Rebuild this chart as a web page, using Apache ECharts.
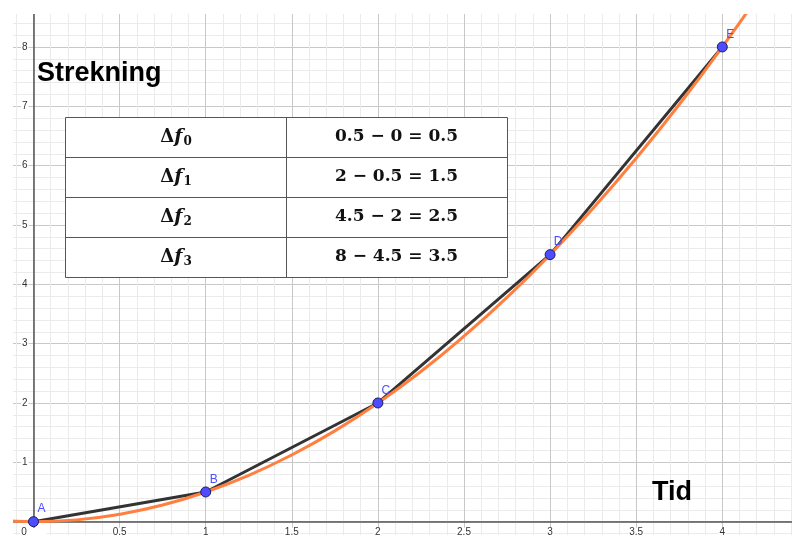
<!DOCTYPE html>
<html><head><meta charset="utf-8">
<script src="https://cdn.jsdelivr.net/npm/echarts@6/dist/echarts.min.js"></script>
<style>html,body{margin:0;padding:0;background:#fff}#c{width:792px;height:535px}</style>
</head><body><div id="c"></div>
<script>
// Points A–E
const ptNames = ['A', 'B', 'C', 'D', 'E'];
const ptX = [0, 1, 2, 3, 4];
const ptY = [0, 0.5, 2, 4.5, 8];
// orange curve samples
const curveX = [-0.25, 0, 0.25, 0.5, 0.75, 1, 1.25, 1.5, 1.75, 2, 2.25, 2.5, 2.75, 3, 3.25, 3.5, 3.75, 4, 4.25];
const curveY = [0.03, 0, 0.03, 0.125, 0.28, 0.5, 0.78, 1.125, 1.53, 2, 2.53, 3.125, 3.78, 4.5, 5.28, 6.125, 7.03, 8, 9.03];
// table
const deltaSubs = ['0', '1', '2', '3'];
const deltaExprs = ['0.5 − 0 = 0.5', '2 − 0.5 = 1.5', '4.5 − 2 = 2.5', '8 − 4.5 = 3.5'];
const yLabel = 'Strekning';
const xLabel = 'Tid';

const chart = echarts.init(document.getElementById('c'), null, {renderer: 'canvas'});

const serif = 'DejaVu Serif';
const ZT = 200;
const graphics = [
  {type: 'rect', z: 100, shape: {x: 0, y: 0, width: 792, height: 14}, style: {fill: '#fff'}},
  {type: 'rect', z: 100, shape: {x: 0, y: 0, width: 13, height: 535}, style: {fill: '#fff'}}
];
const tL = 65.5, tT = 117.5, colW = 221, rowH = 40;
graphics.push({type: 'rect', z: ZT, shape: {x: tL, y: tT, width: colW * 2, height: rowH * 4},
  style: {fill: '#ffffff', stroke: '#555', lineWidth: 1}});
for (let i = 1; i < 4; i++) {
  graphics.push({type: 'line', z: ZT + 1, shape: {x1: tL, y1: tT + rowH * i, x2: tL + colW * 2, y2: tT + rowH * i},
    style: {stroke: '#555', lineWidth: 1}});
}
graphics.push({type: 'line', z: ZT + 1, shape: {x1: tL + colW, y1: tT, x2: tL + colW, y2: tT + rowH * 4},
  style: {stroke: '#555', lineWidth: 1}});
deltaSubs.forEach((s, i) => {
  graphics.push({type: 'text', z: ZT + 2, x: 176, y: 117 + rowH * i + rowH / 2,
    style: {text: '{d|Δ}{f|f}{s|' + s + '}', align: 'center', verticalAlign: 'middle',
      rich: {
        d: {fontFamily: serif, fontWeight: 'bold', fontSize: 18, fill: '#111'},
        f: {fontFamily: serif, fontWeight: 'bold', fontStyle: 'italic', fontSize: 19, fill: '#111'},
        s: {fontFamily: serif, fontWeight: 'bold', fontSize: 12, fill: '#111', padding: [10, 0, 0, 1]}
      }}});
  graphics.push({type: 'text', z: ZT + 2, x: 396.5, y: 117 + rowH * i + rowH / 2,
    style: {text: deltaExprs[i], align: 'center', verticalAlign: 'middle',
      fontFamily: serif, fontWeight: 'bold', fontSize: 17, fill: '#111'}});
});
graphics.push({type: 'text', z: ZT + 3, x: 37, y: 74, style: {text: yLabel, verticalAlign: 'middle',
  fontFamily: 'Liberation Sans', fontWeight: 'bold', fontSize: 27, fill: '#000'}});
graphics.push({type: 'text', z: ZT + 3, x: 652, y: 493, style: {text: xLabel, verticalAlign: 'middle',
  fontFamily: 'Liberation Sans', fontWeight: 'bold', fontSize: 27, fill: '#000'}});

// grid geometry: x=0 at px 33.5 (172.2 px/unit), y=0 at px 521.7 (59.34 px/unit)
const option = {
  animation: false,
  backgroundColor: '#fff',
  grid: {left: -52.6, right: -16.4, top: -12.4, bottom: -46, containLabel: false, outerBoundsMode: 'none'},
  xAxis: {
    type: 'value', min: -0.5, max: 4.5, interval: 0.5, position: 'bottom', offset: -59.3,
    axisLine: {onZero: false, lineStyle: {color: '#555', width: 1.5}},
    axisTick: {show: false},
    axisLabel: {
      margin: 6, fontSize: 10, color: '#333', fontFamily: 'Liberation Sans',
      backgroundColor: '#fff', padding: [0, 1], hideOverlap: false,
      formatter: v => v === 0 ? '{o|0}' : (v < 0 ? '' : String(v)),
      rich: {o: {fontSize: 10, color: '#333', padding: [0, 19, 0, 0]}}
    },
    splitLine: {show: true, lineStyle: {color: '#c8c8c8', width: 1}},
    minorTick: {show: false, splitNumber: 5},
    minorSplitLine: {show: true, lineStyle: {color: '#ebebeb', width: 1}}
  },
  yAxis: {
    type: 'value', min: -1, max: 9, interval: 1, position: 'left', offset: -86.1,
    axisLine: {onZero: false, lineStyle: {color: '#555', width: 1.5}},
    axisTick: {show: false},
    axisLabel: {
      margin: 5, fontSize: 10, color: '#333', fontFamily: 'Liberation Sans',
      backgroundColor: '#fff', padding: [0, 1], hideOverlap: false,
      formatter: v => (v <= 0 || v > 8) ? '' : String(v)
    },
    splitLine: {show: true, lineStyle: {color: '#c8c8c8', width: 1}},
    minorTick: {show: false, splitNumber: 5},
    minorSplitLine: {show: true, lineStyle: {color: '#ebebeb', width: 1}}
  },
  series: [
    {
      type: 'line', name: 'polyline', z: 2,
      data: ptX.map((x, i) => [x, ptY[i]]),
      showSymbol: false, symbol: 'none',
      lineStyle: {color: '#333333', width: 3}
    },
    {
      type: 'line', name: 'f', z: 3, smooth: 0.5,
      data: curveX.map((x, i) => [x, curveY[i]]),
      showSymbol: false, symbol: 'none',
      lineStyle: {color: '#ff7f3f', width: 3}
    },
    {
      type: 'scatter', name: 'points', z: 10, zlevel: 1,
      data: ptX.map((x, i) => ({value: [x, ptY[i]], name: ptNames[i]})),
      symbolSize: 10,
      itemStyle: {color: '#4d4dff', borderColor: '#1a1a66', borderWidth: 1, opacity: 1},
      label: {show: true, formatter: p => p.name, position: 'top', distance: 1, offset: [8, 0],
        color: '#4d4dff', fontSize: 12, fontFamily: 'Liberation Sans'}
    }
  ],
  graphic: graphics
};
chart.setOption(option);
</script>
</body></html>
